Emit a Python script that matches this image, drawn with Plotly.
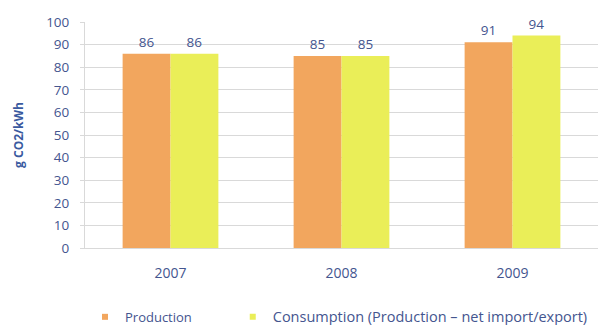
import plotly.graph_objects as go

# Emission intensity of electricity, g CO2 per kWh
years = ["2007", "2008", "2009"]
production = [86, 85, 91]
consumption = [86, 85, 94]

series_names = ["Production", "Consumption (Production \u2013 net import/export)"]
y_title = "g CO2/kWh"

ORANGE = "#F2A65E"
YELLOW = "#EAEE58"
TEXT = "#44558F"
TITLE = "#3A5AA0"
GRID = "#D9D9D9"
FONT = "Open Sans, Lato, sans-serif"

fig = go.Figure()

for vals, color in [(production, ORANGE), (consumption, YELLOW)]:
    fig.add_trace(go.Bar(
        x=years, y=vals,
        marker=dict(color=color, line=dict(width=0)),
        text=[str(v) for v in vals],
        textposition="outside",
        textfont=dict(family=FONT, size=13.5, color=TEXT),
        cliponaxis=False,
        showlegend=False,
        hoverinfo="skip",
    ))

# small square legend keys, each in its own legend box
for name, color, leg in zip(series_names, [ORANGE, YELLOW], ["legend", "legend2"]):
    fig.add_trace(go.Scatter(
        x=[None], y=[None], mode="markers", name=name, legend=leg,
        marker=dict(symbol="square", size=6, color=color),
    ))

legend_common = dict(
    orientation="h", xanchor="left", yanchor="middle",
    yref="container", y=0.025,
    bgcolor="rgba(0,0,0,0)",
)

fig.update_layout(
    width=601, height=325,
    margin=dict(l=85, r=3, t=22, b=77),
    paper_bgcolor="white", plot_bgcolor="white",
    barmode="group", bargap=0.44, bargroupgap=0,
    font=dict(family=FONT, size=12, color=TEXT),
    showlegend=True,
    legend=dict(x=0.0, font=dict(family=FONT, size=13, color=TEXT), **legend_common),
    legend2=dict(x=0.288, font=dict(family=FONT, size=14.5, color=TEXT), **legend_common),
    xaxis=dict(
        showgrid=False, showline=True, linecolor=GRID, linewidth=1,
        ticks="", tickfont=dict(family=FONT, size=14, color=TEXT),
        ticklabelstandoff=12,
        fixedrange=True,
    ),
    yaxis=dict(
        range=[0, 100], dtick=10, tick0=0,
        showgrid=True, gridcolor=GRID, gridwidth=1,
        showline=True, linecolor=GRID, linewidth=1,
        ticks="outside", ticklen=4, tickcolor=GRID,
        tickfont=dict(family=FONT, size=13.5, color=TEXT),
        ticklabelstandoff=8,
        zeroline=False,
        title=dict(text="<b>" + y_title + "</b>", font=dict(family=FONT, size=12, color=TITLE), standoff=19),
        fixedrange=True,
    ),
)

fig.write_html("out.html")
